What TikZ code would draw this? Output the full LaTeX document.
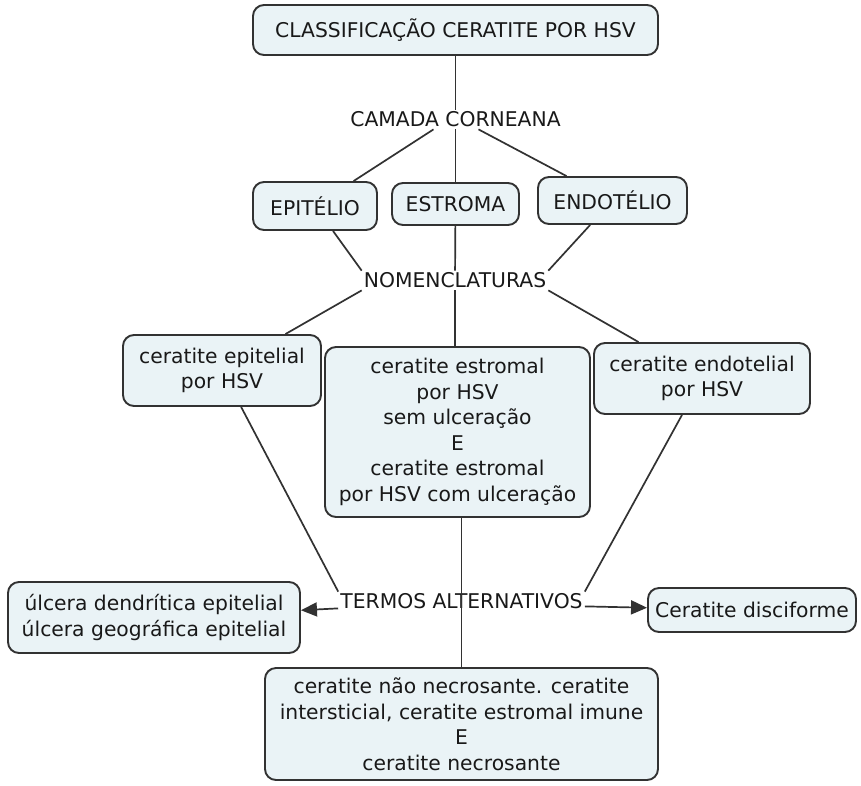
\documentclass[tikz,border=0pt]{standalone}
\usepackage{fontspec}
\setmainfont{DejaVu Sans}
\usetikzlibrary{arrows.meta,calc}
\definecolor{boxfill}{RGB}{234,243,246}
\definecolor{boxline}{RGB}{50,50,50}
\definecolor{ink}{RGB}{25,25,25}
\newcommand\mapfont{\fontsize{20.3}{25.5}\selectfont}
\begin{document}
\begin{tikzpicture}[x=1pt,y=-1pt,
  concept/.style={draw=boxline, line width=1.9pt, fill=boxfill, rounded corners=11pt,
    align=center, inner sep=0pt, text=ink, font=\mapfont},
  linkphrase/.style={inner sep=2pt, text=ink, font=\mapfont},
  conn/.style={draw=boxline, line width=1.7pt},
  arr/.style={conn, -{Triangle[length=16pt,width=14pt]}}]
\fill[white] (0,0) rectangle (861,785);
\useasboundingbox (0,0) rectangle (861,785);

% concepts
\node[concept, minimum width=405pt, minimum height=50pt] (title) at (455.5,30) {CLASSIFICAÇÃO CERATITE POR HSV};
\node[concept, minimum width=124pt, minimum height=48pt] (epit) at (315,206) {EPITÉLIO};
\node[concept, minimum width=127pt, minimum height=42pt] (estr) at (455.5,204) {ESTROMA};
\node[concept, minimum width=149pt, minimum height=47pt] (endo) at (612.5,200.5) {ENDOTÉLIO};
\node[concept, minimum width=198pt, minimum height=71pt] (cepit) at (222,370.5) {ceratite epitelial\\por HSV};
\node[concept, minimum width=265pt, minimum height=170pt] (cestr) at (457.5,432)
  {ceratite estromal\\por HSV\\sem ulceração\\E\\ceratite estromal\\por HSV com ulceração};
\node[concept, minimum width=216pt, minimum height=71pt] (cendo) at (702,378.5) {ceratite endotelial\\por HSV};
\node[concept, minimum width=292pt, minimum height=71pt] (ulcera) at (154,617.5)
  {úlcera dendrítica epitelial\\úlcera geográfica epitelial};
\node[concept, minimum width=208pt, minimum height=44pt] (disc) at (752,610) {Ceratite disciforme};
\node[concept, minimum width=393pt, minimum height=112pt] (necro) at (461.5,724)
  {ceratite não necrosante. ceratite\\intersticial, ceratite estromal imune\\E\\ceratite necrosante};

% linking phrases
\node[linkphrase] (camada) at (455.5,119.5) {CAMADA CORNEANA};
\node[linkphrase] (nomencl) at (455,280.5) {NOMENCLATURAS};
\node[linkphrase] (termos) at (461.5,601.5) {TERMOS ALTERNATIVOS};

% connectors
\draw[conn] (title) -- (camada);
\draw[conn] ($(camada.south)+(-22,0)$) -- (epit);
\draw[conn] (camada) -- (estr);
\draw[conn] ($(camada.south)+(23,0)$) -- (endo);

\draw[conn] (epit) -- (nomencl.north west);
\draw[conn] (estr) -- (nomencl);
\draw[conn] (endo) -- (nomencl.north east);

\draw[conn] (nomencl.south west) -- (cepit);
\draw[conn] (nomencl.south) -- (nomencl.south |- cestr.north);
\draw[conn] (nomencl.south east) -- (cendo);

\draw[conn] (cepit) -- (termos.north west);
\draw[conn] (termos.center |- cestr.south) -- (termos.center |- necro.north);
\draw[conn] (cendo) -- (termos.north east);

\draw[arr] ($(termos.south west)+(0,-3)$) -- (ulcera);
\draw[arr] ($(termos.south east)+(0,-5)$) -- (disc);
\end{tikzpicture}
\end{document}
